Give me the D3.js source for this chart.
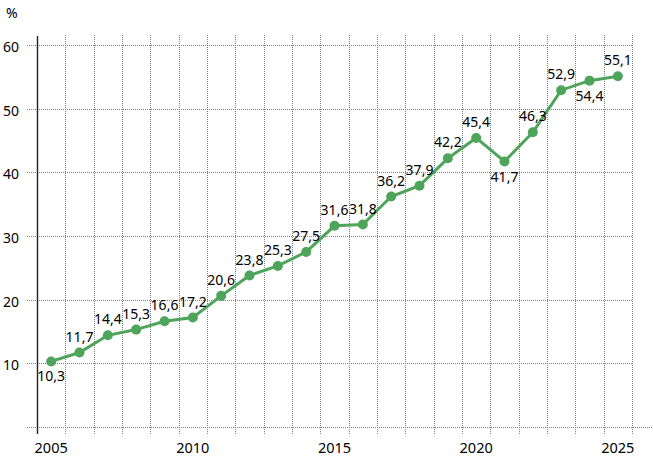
<!DOCTYPE html>
<meta charset="utf-8">
<script src="https://d3js.org/d3.v7.min.js"></script>
<style>
  body { margin: 0; background: #fff; }
  text { font-family: "Noto Sans", sans-serif; font-size: 14px; fill: #000; }
</style>
<div id="chart"></div>
<script>
    // data
    const years = d3.range(2005, 2026);
    const values = [10.3, 11.7, 14.4, 15.3, 16.6, 17.2, 20.6, 23.8, 25.3, 27.5, 31.6,
        31.8, 36.2, 37.9, 42.2, 45.4, 41.7, 46.3, 52.9, 54.4, 55.1];
    // which labels sit under the point
    const below = [2005, 2021, 2024];
    const yTicks = [10, 20, 30, 40, 50, 60];
    const xLabels = [2005, 2010, 2015, 2020, 2025];

    const W = 653, H = 458;
    const plotLeft = 37, plotRight = 632, plotTop = 45, plotBottom = 427;

    const svg = d3.select("#chart")
        .append("svg")
        .attr("width", W)
        .attr("height", H);

    const x = d3.scaleBand()
        .domain(years)
        .range([plotLeft, plotRight]);

    const y = d3.scaleLinear()
        .domain([0, 60])
        .range([plotBottom, plotTop]);

    const cx = d => x(d) + x.bandwidth() / 2;

    // horizontal gridlines (the zero line runs wider)
    svg.append("g")
        .selectAll("line")
        .data([0].concat(yTicks))
        .join("line")
        .attr("x1", 27)
        .attr("x2", d => d === 0 ? W : plotRight + 1)
        .attr("y1", d => Math.round(y(d)) + 0.5)
        .attr("y2", d => Math.round(y(d)) + 0.5)
        .attr("stroke", "#808080")
        .attr("stroke-dasharray", "1,1");

    // vertical gridlines at band edges
    svg.append("g")
        .selectAll("line")
        .data(years.map(d => x(d) + x.bandwidth()))
        .join("line")
        .attr("x1", d => Math.round(d) + 0.5)
        .attr("x2", d => Math.round(d) + 0.5)
        .attr("y1", 35)
        .attr("y2", 434)
        .attr("stroke", "#808080")
        .attr("stroke-dasharray", "1,1");

    // y axis line
    svg.append("line")
        .attr("x1", plotLeft + 0.5)
        .attr("x2", plotLeft + 0.5)
        .attr("y1", 36)
        .attr("y2", 434)
        .attr("stroke", "#222")
        .attr("stroke-width", 1.4);

    // y tick labels
    svg.append("g")
        .selectAll("text")
        .data(yTicks)
        .join("text")
        .attr("x", 19)
        .attr("y", d => y(d))
        .attr("dy", "0.5em")
        .attr("text-anchor", "end")
        .text(d => d);

    svg.append("text")
        .attr("x", 6)
        .attr("y", 18)
        .text("%");

    // x labels
    svg.append("g")
        .selectAll("text")
        .data(xLabels)
        .join("text")
        .attr("x", d => cx(d))
        .attr("y", 453)
        .attr("text-anchor", "middle")
        .style("font-size", "14.5px")
        .text(d => d);

    // line
    const line = d3.line()
        .x((d, i) => cx(years[i]))
        .y(d => y(d));

    svg.append("path")
        .datum(values)
        .attr("fill", "none")
        .attr("stroke", "#4ea45a")
        .attr("stroke-width", 3)
        .attr("d", line);

    svg.append("g")
        .selectAll("circle")
        .data(values)
        .join("circle")
        .attr("cx", (d, i) => cx(years[i]))
        .attr("cy", d => y(d))
        .attr("r", 5)
        .attr("fill", "#4ea45a");

    // value labels
    svg.append("g")
        .selectAll("text")
        .data(values)
        .join("text")
        .attr("x", (d, i) => cx(years[i]))
        .attr("y", (d, i) => below.includes(years[i]) ? y(d) + 15 : y(d) - 16)
        .attr("dy", "0.36em")
        .attr("text-anchor", "middle")
        .text(d => String(d).replace(".", ","));
</script>
